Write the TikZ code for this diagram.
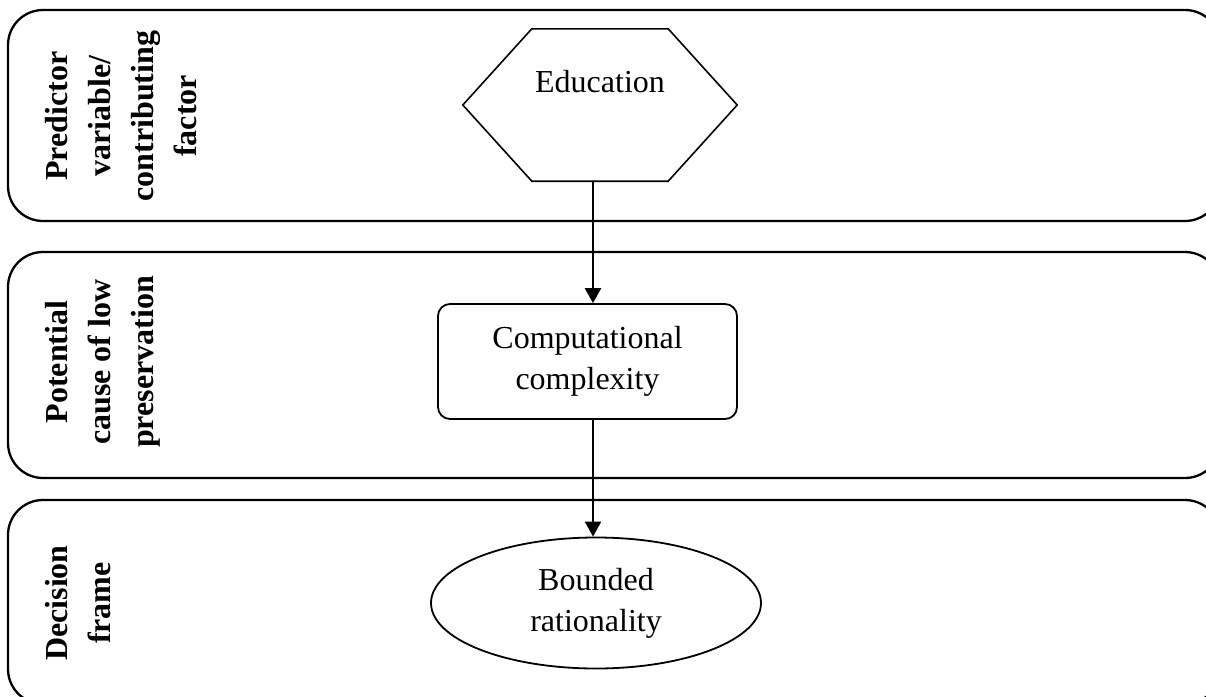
\documentclass[tikz,border=0pt]{standalone}
\usepackage{fontspec}
\setmainfont{Liberation Serif}
\usetikzlibrary{arrows.meta,shapes.geometric,calc}
\begin{document}
\begin{tikzpicture}[x=1pt,y=-1pt,
  lane/.style={draw, line width=2.3pt, rounded corners=35pt},
  lanelabel/.style={rotate=90, anchor=north, align=center, inner sep=0pt,
    font=\fontsize{32}{43}\selectfont\bfseries},
  nodetext/.style={align=center, inner sep=0pt, font=\fontsize{32}{41}\selectfont},
  procbox/.style={nodetext, draw, line width=1.8pt, rounded corners=12pt,
    minimum width=299pt, minimum height=115pt},
  ovalbox/.style={nodetext, draw, ellipse, line width=1.8pt,
    minimum width=330pt, minimum height=131pt},
  hexline/.style={line width=1.6pt, line join=miter},
  flow/.style={line width=2.3pt, -{Triangle[width=16pt,length=15pt]}}
]
\useasboundingbox (0,0) rectangle (1206,696);

% swim lanes, running off the right and bottom edges
\begin{scope}
  \clip (0,0) rectangle (1206,696);
  \draw[lane] (8,10) rectangle (1220,221);
  \draw[lane] (8,252) rectangle (1220,478);
  \draw[lane] (8,500) rectangle (1220,704);
\end{scope}

% lane headings
\node[lanelabel] (lab1) at (45,116) {Predictor\\variable/\\contributing\\factor};
\node[lanelabel] (lab2) at (45,362) {Potential\\cause of low\\preservation};
\node[lanelabel] (lab3) at (45,603) {Decision\\frame};

% hexagon: predictor
\node[minimum width=274pt, minimum height=152pt, inner sep=0pt] (edu) at (600,105) {};
\draw[hexline] (edu.west) -- ([xshift=69pt]edu.north west) -- ([xshift=-69pt]edu.north east)
  -- (edu.east) -- ([xshift=-69pt]edu.south east) -- ([xshift=69pt]edu.south west) -- cycle;
\node[nodetext, anchor=base] (edutext) at (600,92) {Education};

% cause and decision frame
\node[procbox] (comp) at (587.5,361.5) {Computational\\complexity};
\node[ovalbox] (bound) at (596,603) {\raisebox{-3pt}{Bounded}\\\raisebox{-3pt}{rationality}};

% connectors
\draw[flow] ([xshift=-7pt]edu.south) -- ([xshift=5.5pt]comp.north);
\draw[flow] ([xshift=5.5pt]comp.south) -- ([xshift=-3pt]bound.north);
\end{tikzpicture}
\end{document}
